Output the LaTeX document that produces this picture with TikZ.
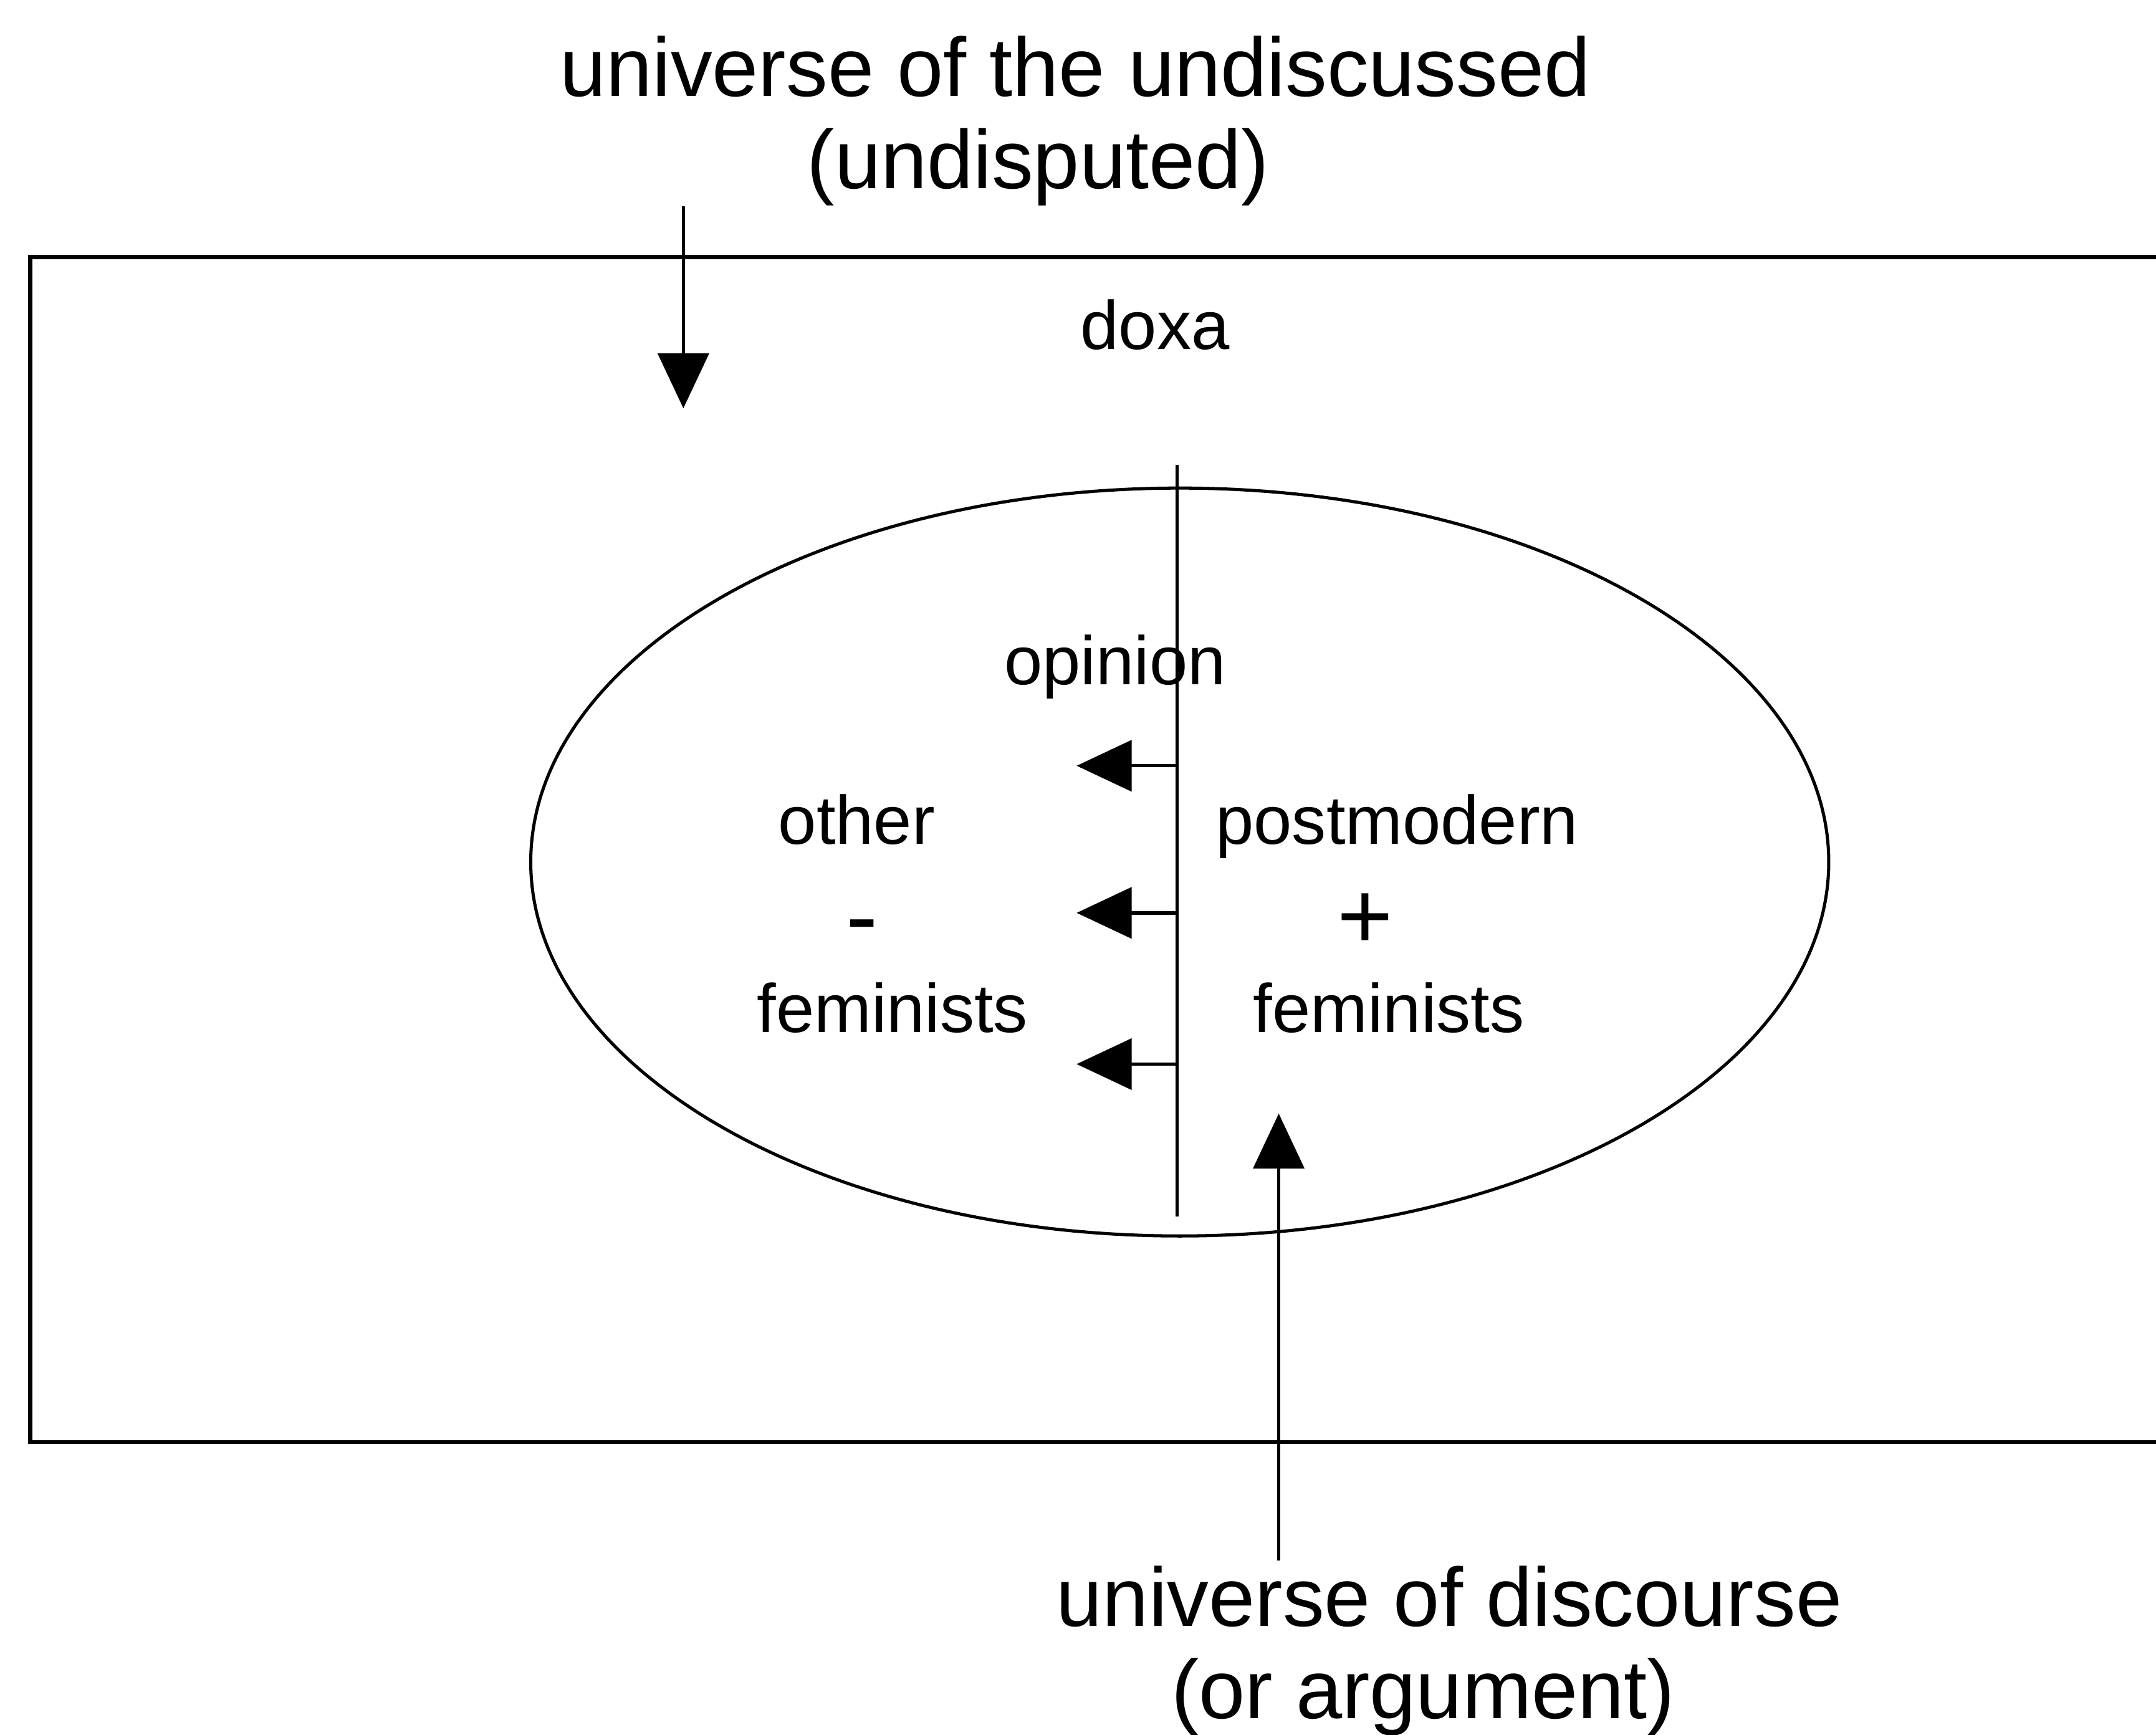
\documentclass[tikz,border=0pt]{standalone}
\usepackage{fontspec}
\setmainfont{Liberation Sans}
\usetikzlibrary{arrows.meta}
\begin{document}
\begin{tikzpicture}[x=0.01cm,y=-0.01cm,
  big/.style={font=\fontsize{17.2}{20}\selectfont, inner sep=0pt, anchor=base},
  small/.style={font=\fontsize{14.2}{17}\selectfont, inner sep=0pt, anchor=base},
  sign/.style={font=\fontsize{19.8}{22}\selectfont, inner sep=0pt, anchor=base},
  frame/.style={line width=0.85pt},
  oval/.style={line width=0.65pt},
  divider/.style={line width=0.7pt},
  arr/.style={line width=0.7pt, -{Triangle[length=0.4cm,width=0.37cm]}},
]
\useasboundingbox (0,0) rectangle (1568,1262);
\clip (0,0) rectangle (1568,1262);
% frame (right side runs off the picture)
\draw[frame] (1600,187) -- (22,187) -- (22,1049) -- (1600,1049);
% ellipse
\draw[oval] (858,627) ellipse [x radius=472, y radius=272];
% labels
\node[big] (t1) at (782,70) {universe of the undiscussed};
\node[big] (t2) at (755,137) {(undisputed)};
\node[small] (doxa) at (840,254) {doxa};
\node[small] (opinion) at (811,498) {opinion};
\node[small] (other) at (623,614) {other};
\node[sign] (minus) at (627,690) {-};
\node[small] (fem1) at (649,751) {feminists};
\node[small] (post) at (1016,614) {postmodern};
\node[sign] (plus) at (993,690) {+};
\node[small] (fem2) at (1010,751) {feminists};
\node[big] (b1) at (1054,1183) {universe of discourse};
\node[big] (b2) at (1035,1250) {(or argument)};
% divider
\coordinate (vt) at (856,338);
\coordinate (vb) at (856,885);
\draw[divider] (vt) -- (vb);
% arrows from divider
\coordinate (a1s) at (856,557); \coordinate (a1e) at (783,557);
\coordinate (a2s) at (856,664); \coordinate (a2e) at (783,664);
\coordinate (a3s) at (856,774); \coordinate (a3e) at (783,774);
\draw[arr] (a1s) -- (a1e);
\draw[arr] (a2s) -- (a2e);
\draw[arr] (a3s) -- (a3e);
% pointer arrows
\coordinate (ps) at (497,150); \coordinate (pe) at (497,297);
\draw[arr] (ps) -- (pe);
\coordinate (qs) at (930,1135); \coordinate (qe) at (930,810);
\draw[arr] (qs) -- (qe);
\end{tikzpicture}
\end{document}
